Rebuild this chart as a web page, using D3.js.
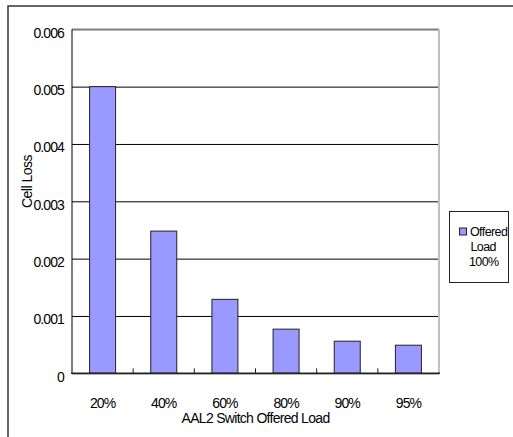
<!DOCTYPE html>
<html><head><meta charset="utf-8">
<script src="https://cdn.jsdelivr.net/npm/d3@7"></script>
<style>
body{margin:0;background:#fff;}
svg{display:block;font-family:"Liberation Sans",Arial,sans-serif;}
</style></head>
<body><svg id="c" width="513" height="437"></svg>
<script>
const categories = ["20%","40%","60%","80%","90%","95%"];
const cellLoss = [0.005,0.00248,0.00129,0.00077,0.00056,0.00049];
const yTickValues = [0,0.001,0.002,0.003,0.004,0.005,0.006];
const yTickLabels = ["0","0.001","0.002","0.003","0.004","0.005","0.006"];
const seriesName = ["Offered","Load","100%"];
const xTitle = "AAL2 Switch Offered Load";
const yTitle = "Cell Loss";

const svg = d3.select("#c");
const L=72, R=439, T=29.3, B=373.3;

// outer frame
svg.append("rect").attr("x",8).attr("y",6).attr("width",540).attr("height",460)
  .attr("fill","#fff").attr("stroke","#333").attr("stroke-width",1.5);

const x = d3.scaleBand().domain(categories).range([L,R]).paddingInner(0.575).paddingOuter(0.2875);
const y = d3.scaleLinear().domain([0,0.006]).range([B,T]);

// gridlines + y labels
const yAxis = d3.axisLeft(y).tickValues(yTickValues)
  .tickFormat((d,i)=>yTickLabels[i]).tickSize(-(R-L)).tickPadding(8);
const gy = svg.append("g").attr("transform",`translate(${L},0)`).call(yAxis);
gy.select(".domain").remove();
gy.selectAll(".tick line").attr("stroke","#000").attr("stroke-width",1);
gy.selectAll(".tick text").attr("font-size",14).attr("letter-spacing","-0.9px")
  .attr("fill","#000").attr("dy","0.55em");

// plot borders
svg.append("line").attr("x1",L).attr("x2",R).attr("y1",T).attr("y2",T).attr("stroke","#808080").attr("stroke-width",1.5);
svg.append("line").attr("x1",R).attr("x2",R).attr("y1",T).attr("y2",B).attr("stroke","#c0c0c0").attr("stroke-width",2);
svg.append("line").attr("x1",L).attr("x2",L).attr("y1",T).attr("y2",B).attr("stroke","#000").attr("stroke-width",1);

// bars
svg.append("g").selectAll("rect").data(cellLoss).join("rect")
  .attr("x",(d,i)=>x(categories[i])).attr("width",x.bandwidth())
  .attr("y",d=>y(d)).attr("height",d=>B-y(d))
  .attr("fill","#9999ff").attr("stroke","#222").attr("stroke-width",1);

// x axis
const xAxis = d3.axisBottom(x).tickSize(0).tickPadding(25);
const gx = svg.append("g").attr("transform",`translate(0,${B})`).call(xAxis);
gx.select(".domain").remove();
gx.selectAll(".tick text").attr("font-size",14).attr("letter-spacing","-0.9px").attr("fill","#000");
svg.append("line").attr("x1",L-1).attr("x2",R+1).attr("y1",B).attr("y2",B).attr("stroke","#222").attr("stroke-width",1.6);
// category boundary ticks (inward)
const step = x.step();
svg.append("g").selectAll("line").data(categories.slice(1)).join("line")
  .attr("x1",d=>x(d)-x.paddingInner()*step/2).attr("x2",d=>x(d)-x.paddingInner()*step/2)
  .attr("y1",B-5).attr("y2",B).attr("stroke","#222").attr("stroke-width",1);

// titles
svg.append("text").attr("x",(L+R)/2).attr("y",423).attr("text-anchor","middle")
  .attr("font-size",14).attr("letter-spacing","-0.7px").text(xTitle);
svg.append("text").attr("transform","translate(32,181.5) rotate(-90)").attr("text-anchor","middle")
  .attr("font-size",14).attr("letter-spacing","-0.5px").text(yTitle);

// legend
svg.append("rect").attr("x",449.5).attr("y",211.5).attr("width",59).attr("height",71)
  .attr("fill","#fff").attr("stroke","#222").attr("stroke-width",1);
svg.append("rect").attr("x",459.5).attr("y",228).attr("width",7).attr("height",7)
  .attr("fill","#9999ff").attr("stroke","#222").attr("stroke-width",1);
svg.append("text").attr("x",470).attr("y",235.5).attr("font-size",12.5).attr("letter-spacing","-0.6px").text(seriesName[0]);
svg.append("text").attr("x",470.5).attr("y",250.5).attr("font-size",12.5).attr("letter-spacing","-0.6px").text(seriesName[1]);
svg.append("text").attr("x",469).attr("y",265.5).attr("font-size",12.5).attr("letter-spacing","-0.6px").text(seriesName[2]);
</script></body></html>
